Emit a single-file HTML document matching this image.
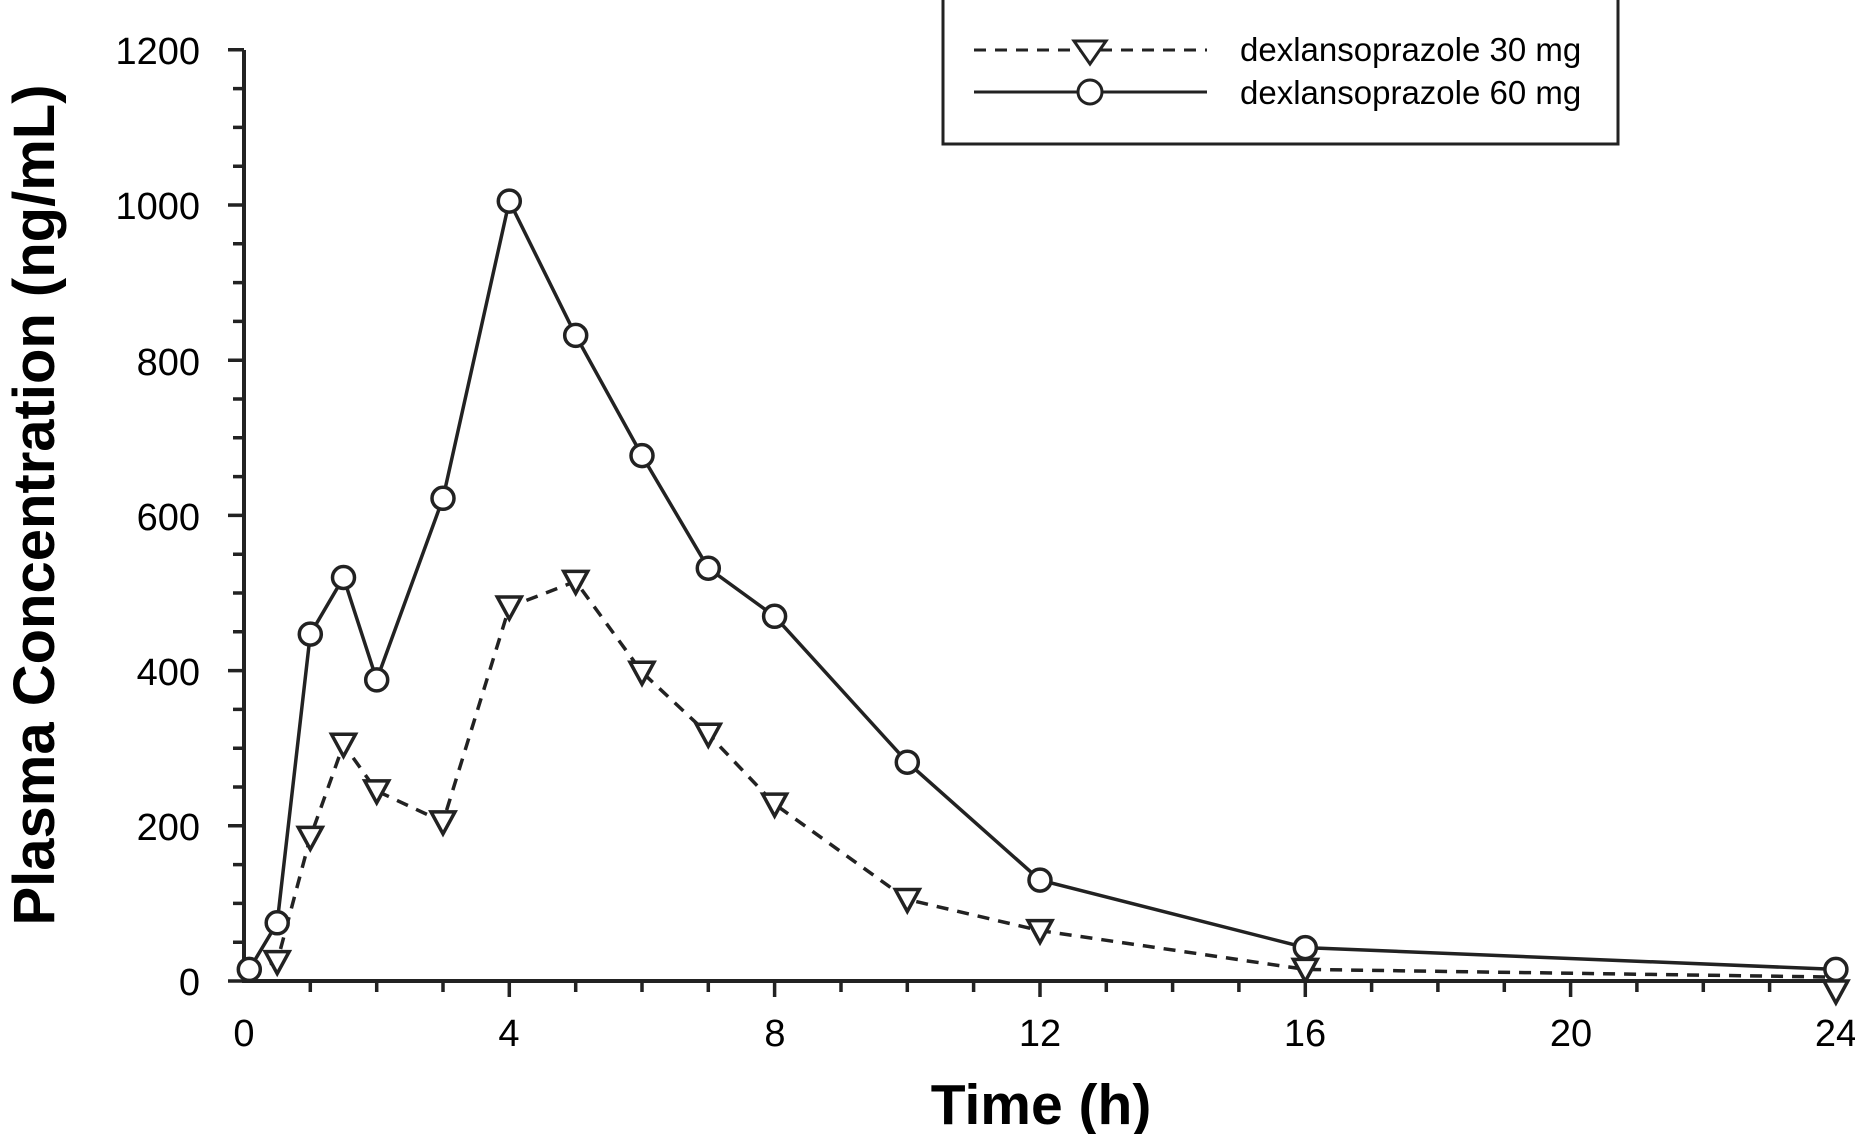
<!DOCTYPE html>
<html><head><meta charset="utf-8"><style>body{margin:0;background:#fff}svg{display:block}</style></head><body>
<svg width="1855" height="1134" xmlns="http://www.w3.org/2000/svg" font-family="Liberation Sans, sans-serif">
<g stroke="#222" stroke-width="4" fill="none">
<line x1="244" y1="50" x2="244" y2="983"/>
<line x1="242" y1="981" x2="1840" y2="981"/>
</g>
<path stroke="#222" stroke-width="3.5" fill="none" d="
M228 981H244 M233 942.2H244 M233 903.4H244 M233 864.6H244 M228 825.8H244 M233 787H244 M233 748.2H244 M233 709.4H244
M228 670.6H244 M233 631.8H244 M233 593H244 M233 554.2H244 M228 515.4H244 M233 476.6H244 M233 437.8H244 M233 399H244
M228 360.2H244 M233 321.4H244 M233 282.6H244 M233 243.8H244 M228 205H244 M233 166.2H244 M233 127.4H244 M233 88.6H244 M228 49.8H244
M310.3 981V992 M376.7 981V992 M443 981V992 M509.3 981V997 M575.7 981V992 M642 981V992 M708.3 981V992 M774.6 981V997
M841 981V992 M907.3 981V992 M973.6 981V992 M1040 981V997 M1106.3 981V992 M1172.6 981V992 M1238.9 981V992 M1305.3 981V997
M1371.6 981V992 M1437.9 981V992 M1504.3 981V992 M1570.6 981V997 M1636.9 981V992 M1703.3 981V992 M1769.6 981V992 M1835.9 981V997"/>
<g font-size="38" fill="#000" text-anchor="end">
<text x="200" y="995">0</text><text x="200" y="840">200</text><text x="200" y="685">400</text><text x="200" y="530">600</text><text x="200" y="375">800</text><text x="200" y="219">1000</text><text x="200" y="64">1200</text>
</g>
<g font-size="38" fill="#000" text-anchor="middle">
<text x="244" y="1046">0</text><text x="509" y="1046">4</text><text x="775" y="1046">8</text><text x="1040" y="1046">12</text><text x="1305" y="1046">16</text><text x="1571" y="1046">20</text><text x="1836" y="1046">24</text>
</g>
<text x="1041" y="1124" font-size="57" font-weight="bold" text-anchor="middle">Time (h)</text>
<text transform="translate(54,505) rotate(-90)" font-size="58" font-weight="bold" text-anchor="middle">Plasma Concentration (ng/mL)</text>
<rect x="943" y="-2" width="675" height="146" fill="#fff" stroke="#222" stroke-width="3"/>
<line x1="974" y1="50" x2="1207" y2="50" stroke="#222" stroke-width="3" stroke-dasharray="12,9"/>
<polygon points="1074,41 1106,41 1090,64" fill="#fff" stroke="#222" stroke-width="3"/>
<line x1="974" y1="92" x2="1207" y2="92" stroke="#222" stroke-width="3"/>
<circle cx="1090" cy="92" r="12" fill="#fff" stroke="#222" stroke-width="3"/>
<text x="1240" y="61" font-size="33">dexlansoprazole 30 mg</text>
<text x="1240" y="104" font-size="33">dexlansoprazole 60 mg</text>
<polyline fill="none" stroke="#222" stroke-width="3.5" stroke-dasharray="12,9" points="249.3,969.4 277.2,961.6 310.3,837.4 343.5,744.3 376.7,790.9 443,821.9 509.3,607 575.7,581.4 642,672.2 708.3,734.2 774.6,804.1 907.3,899.5 1040,930.6 1305.3,969.4 1835.9,977.1"/>
<polyline fill="none" stroke="#222" stroke-width="3.5" points="249.3,969.4 277.2,922.8 310.3,634.1 343.5,577.5 376.7,679.9 443,498.3 509.3,201.1 575.7,335.4 642,455.6 708.3,568.2 774.6,616.3 907.3,762.2 1040,880.1 1305.3,947.6 1835.9,969.4"/>
<g fill="#fff" stroke="#222" stroke-width="3.5">
<polygon points="265.2,951.6 289.2,951.6 277.2,973.6"/>
<polygon points="298.3,827.4 322.3,827.4 310.3,849.4"/>
<polygon points="331.5,734.3 355.5,734.3 343.5,756.3"/>
<polygon points="364.7,780.9 388.7,780.9 376.7,802.9"/>
<polygon points="431,811.9 455,811.9 443,833.9"/>
<polygon points="497.3,597 521.3,597 509.3,619"/>
<polygon points="563.7,571.4 587.7,571.4 575.7,593.4"/>
<polygon points="630,662.2 654,662.2 642,684.2"/>
<polygon points="696.3,724.2 720.3,724.2 708.3,746.2"/>
<polygon points="762.6,794.1 786.6,794.1 774.6,816.1"/>
<polygon points="895.3,889.5 919.3,889.5 907.3,911.5"/>
<polygon points="1028,920.6 1052,920.6 1040,942.6"/>
<polygon points="1293.3,959.4 1317.3,959.4 1305.3,981.4"/>
<polygon points="1823.9,981 1847.9,981 1835.9,1003"/>
<circle cx="249.3" cy="969.4" r="11"/>
<circle cx="277.2" cy="922.8" r="11"/>
<circle cx="310.3" cy="634.1" r="11"/>
<circle cx="343.5" cy="577.5" r="11"/>
<circle cx="376.7" cy="679.9" r="11"/>
<circle cx="443" cy="498.3" r="11"/>
<circle cx="509.3" cy="201.1" r="11"/>
<circle cx="575.7" cy="335.4" r="11"/>
<circle cx="642" cy="455.6" r="11"/>
<circle cx="708.3" cy="568.2" r="11"/>
<circle cx="774.6" cy="616.3" r="11"/>
<circle cx="907.3" cy="762.2" r="11"/>
<circle cx="1040" cy="880.1" r="11"/>
<circle cx="1305.3" cy="947.6" r="11"/>
<circle cx="1835.9" cy="969.4" r="11"/>
</g>
</svg>
</body></html>
